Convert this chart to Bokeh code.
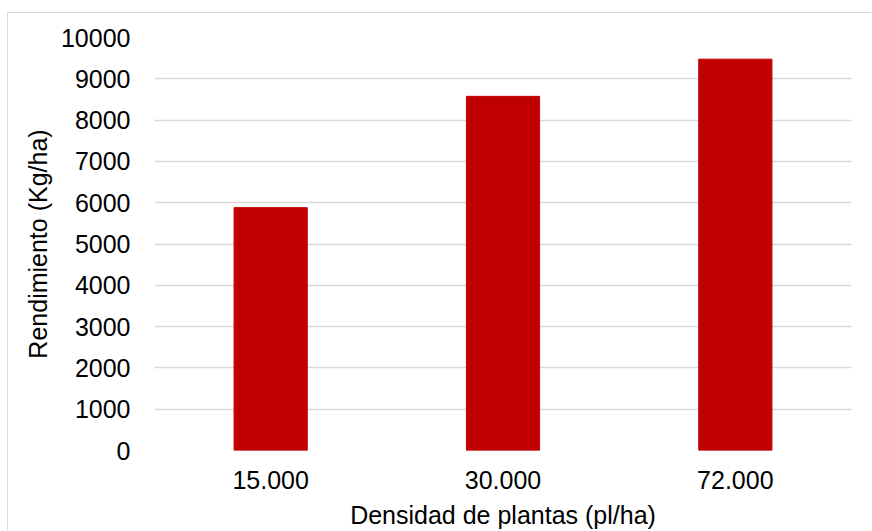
from bokeh.plotting import figure
from bokeh.models import FixedTicker, Range1d
from bokeh.embed import file_html
from bokeh.resources import INLINE

# Plant density vs. yield
densidades = ["15.000", "30.000", "72.000"]
rendimiento = [5880, 8575, 9475]
y_ticks = [0, 1000, 2000, 3000, 4000, 5000, 6000, 7000, 8000, 9000, 10000]

FONT = "Liberation Sans"
GRID = "#d9d9d9"

p = figure(
    x_range=densidades,
    y_range=Range1d(0, 10000),
    width=864,
    height=518,
    output_backend="svg",
    toolbar_location=None,
    min_border_left=146,
    min_border_right=21,
    min_border_top=24,
    min_border_bottom=81,
)
p.margin = (12, 0, 0, 7)
p.styles = {"border-top": f"1px solid {GRID}", "border-left": f"1px solid {GRID}"}

p.vbar(x=densidades, top=rendimiento, width=0.315, color="#c00000")

p.outline_line_color = None
p.background_fill_color = "white"
p.border_fill_color = "white"

p.xgrid.grid_line_color = None
p.ygrid.grid_line_color = GRID
p.ygrid.grid_line_width = 1.4
p.yaxis.ticker = FixedTicker(ticks=y_ticks)

for ax in (p.xaxis[0], p.yaxis[0]):
    ax.axis_line_color = None
    ax.major_tick_line_color = None
    ax.minor_tick_line_color = None
    ax.major_label_text_font = FONT
    ax.major_label_text_font_size = "25px"
    ax.major_label_text_color = "black"
    ax.axis_label_text_font = FONT
    ax.axis_label_text_font_size = "25px"
    ax.axis_label_text_font_style = "normal"
    ax.axis_label_text_color = "black"

p.xaxis.axis_label = "Densidad de plantas (pl/ha)"
p.yaxis.axis_label = "Rendimiento (Kg/ha)"
p.yaxis.major_label_standoff = 18
p.xaxis.major_label_standoff = 14
p.yaxis.axis_label_standoff = 6
p.xaxis.axis_label_standoff = 9

open("out.html", "w").write(file_html(p, INLINE))
